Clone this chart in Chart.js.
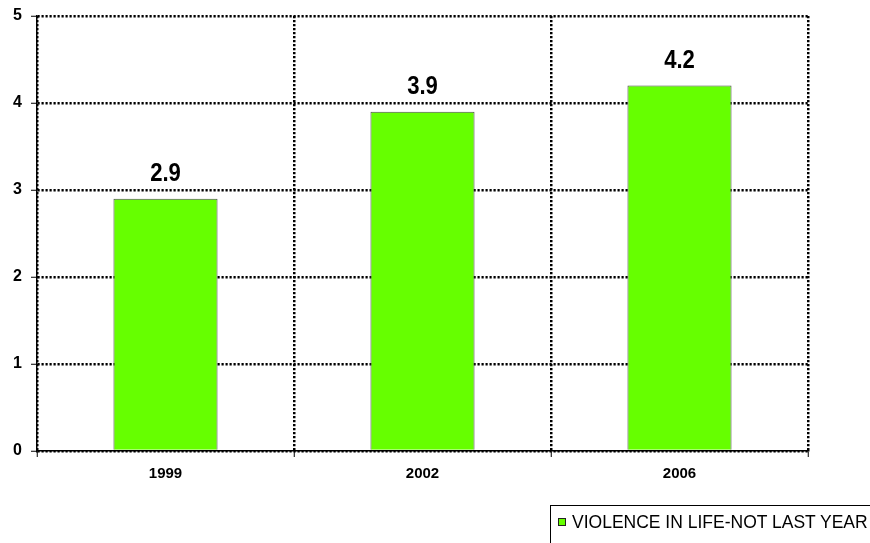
<!DOCTYPE html>
<html>
<head>
<meta charset="utf-8">
<script src="https://cdn.jsdelivr.net/npm/chart.js@4/dist/chart.umd.min.js"></script>
<style>
  html, body { margin: 0; padding: 0; background: #fff; overflow: hidden; }
  #wrap { position: relative; width: 870px; height: 543px; }
  #legend {
    position: absolute; left: 550px; top: 505px; width: 340px; height: 60px;
    border: 1px solid #000; box-sizing: border-box;
    font-family: "Liberation Sans", Arial, sans-serif; font-size: 17.5px; color: #000;
  }
  #legend .swatch {
    position: absolute; left: 7px; top: 12px; width: 6px; height: 6px;
    border: 1px solid #222; background: #66ff00;
  }
  #legend .label { position: absolute; left: 21px; top: 6px; white-space: nowrap; }
</style>
</head>
<body>
<div id="wrap">
  <canvas id="violenceChart" width="870" height="543"></canvas>
  <div id="legend"><span class="swatch"></span><span class="label"></span></div>
</div>
<script>
var years = ["1999", "2002", "2006"];
var violenceValues = [2.9, 3.9, 4.2];
var seriesName = "VIOLENCE IN LIFE-NOT LAST YEAR";

Chart.defaults.font.family = "'Liberation Sans', Arial, sans-serif";
Chart.defaults.color = "#000";

// value above each bar, squeezed a little horizontally
var valueLabels = {
  id: "valueLabels",
  afterDatasetsDraw: function (chart) {
    var ctx = chart.ctx;
    var meta = chart.getDatasetMeta(0);
    meta.data.forEach(function (bar, i) {
      ctx.save();
      ctx.translate(bar.x, bar.y - 18);
      ctx.scale(0.85, 1);
      ctx.font = "bold 26px 'Liberation Sans', sans-serif";
      ctx.fillStyle = "#000";
      ctx.textAlign = "center";
      ctx.textBaseline = "alphabetic";
      ctx.fillText(violenceValues[i].toFixed(1), 0, 0);
      ctx.restore();
    });
  },
};

var ctx = document.getElementById("violenceChart").getContext("2d");
var violenceChart = new Chart(ctx, {
  type: "bar",
  data: {
    labels: years,
    datasets: [
      {
        label: seriesName,
        data: violenceValues,
        backgroundColor: "#66ff00",
        borderColor: "#4a4a4a",
        borderWidth: 1,
        categoryPercentage: 1,
        barPercentage: 0.405,
      },
    ],
  },
  options: {
    responsive: false,
    animation: false,
    layout: { padding: { left: 0, right: 62, top: 16, bottom: 0 } },
    plugins: {
      legend: { display: false },
      tooltip: { enabled: false },
    },
    scales: {
      x: {
        offset: true,
        grid: {
          offset: true,
          color: "#000",
          lineWidth: 2.5,
          tickLength: 6,
          tickColor: "#000",
          tickWidth: 1,
          tickBorderDash: [],
        },
        border: { color: "#000", width: 1.5, dash: [2.2, 1.8] },
        ticks: { font: { size: 15, weight: "bold" }, padding: 8 },
        afterFit: function (scale) {
          scale.height = 92;
        },
      },
      y: {
        min: 0,
        max: 5,
        grid: {
          color: "#000",
          lineWidth: 2.5,
          tickLength: 6,
          tickColor: "#000",
          tickWidth: 1,
          tickBorderDash: [],
        },
        border: { color: "#000", width: 1.5, dash: [2.2, 1.8] },
        ticks: { stepSize: 1, font: { size: 16, weight: "bold" }, padding: 9 },
        afterFit: function (scale) {
          scale.width = 37;
          scale.paddingTop = 0;
          scale.paddingBottom = 0;
        },
      },
    },
  },
  plugins: [valueLabels],
});

document.querySelector("#legend .label").textContent = seriesName;
</script>
</body>
</html>
